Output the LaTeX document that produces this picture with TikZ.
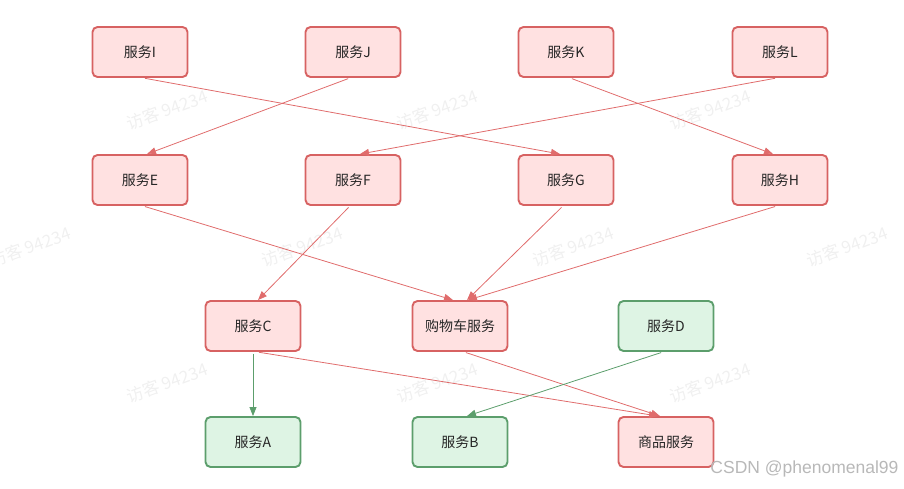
\documentclass[tikz,border=0pt]{standalone}
\usepackage{fontspec}
\setmainfont{Noto Sans CJK SC}
\newfontfamily\csdnfont{Liberation Sans}
\usetikzlibrary{arrows.meta,positioning}

\definecolor{redFill}{RGB}{255,225,225}
\definecolor{redLine}{RGB}{215,98,98}
\definecolor{redEdge}{RGB}{224,108,108}
\definecolor{greenFill}{RGB}{222,244,228}
\definecolor{greenLine}{RGB}{92,158,108}
\definecolor{markGray}{RGB}{240,240,240}

\begin{document}
\begin{tikzpicture}[x=1pt, y=-1pt,
			every node/.style={align=center, font=\fontsize{14}{16}\selectfont, text=black!85},
			redBox/.style={draw=redLine, fill=redFill, rounded corners=5pt, line width=1.9pt, minimum width=95pt, minimum height=50pt, inner sep=0pt},
			greenBox/.style={draw=greenLine, fill=greenFill, rounded corners=5pt, line width=1.9pt, minimum width=95pt, minimum height=50pt, inner sep=0pt},
			redArrow/.style={draw=redEdge, line width=0.8pt, -{Triangle[length=9pt, width=7pt]}, shorten <=2pt},  % red dependency
			greenArrow/.style={draw=greenLine, line width=0.8pt, -{Triangle[length=9pt, width=7pt]}, shorten <=2pt},
			wmText/.style={text=markGray, rotate=20, font=\fontsize{17}{20}\selectfont}
		]
		\useasboundingbox (0,0) rectangle (904,489);

		% watermark
		\foreach \x in {167,437,710} {
			\node[wmText] (wmTop\x) at (\x,110) {访客 94234};
			\node[wmText] (wmLow\x) at (\x,383) {访客 94234};
		}
		\foreach \x in {30,302,573,847}
			\node[wmText] (wmMid\x) at (\x,247) {访客 94234};

		% top row
		\node[redBox] (I) at (140,52) {服务I};
		\node[redBox] (J) at (353,52) {服务J};
		\node[redBox] (K) at (566,52) {服务K};
		\node[redBox] (L) at (780,52) {服务L};
		% second row
		\node[redBox] (E) at (140,180) {服务E};
		\node[redBox] (F) at (353,180) {服务F};
		\node[redBox] (G) at (566,180) {服务G};
		\node[redBox] (H) at (780,180) {服务H};
		% third row
		\node[redBox] (C) at (253,326) {服务C};
		\node[redBox] (cart) at (460,326) {购物车服务};
		\node[greenBox] (D) at (666,326) {服务D};
		% bottom row
		\node[greenBox] (A) at (253,442) {服务A};
		\node[greenBox] (B) at (460,442) {服务B};
		\node[redBox] (goods) at (666,442) {商品服务};

		\draw[redArrow] ([xshift=3pt]I.south) -- ([xshift=-6pt]G.north);
		\draw[redArrow] ([xshift=-3pt]J.south) -- ([xshift=7pt]E.north);
		\draw[redArrow] ([xshift=4pt]K.south) -- ([xshift=-7pt]H.north);
		\draw[redArrow] ([xshift=-3pt]L.south) -- ([xshift=7pt]F.north);

		\draw[redArrow] ([xshift=3pt]E.south) -- ([xshift=-7pt]cart.north);
		\draw[redArrow] ([xshift=-3pt]F.south) -- ([xshift=5pt]C.north);
		\draw[redArrow] ([xshift=-3pt]G.south) -- ([xshift=7pt]cart.north);
		\draw[redArrow] ([xshift=-3pt]H.south) -- ([xshift=8pt]cart.north);

		\draw[greenArrow] (C.south) -- (A.north);
		\draw[redArrow] ([xshift=4pt]C.south) -- ([xshift=-8pt]goods.north);
		\draw[redArrow] ([xshift=4pt]cart.south) -- ([xshift=-6pt]goods.north);
		\draw[greenArrow] ([xshift=-3pt]D.south) -- ([xshift=7pt]B.north);

		\node[anchor=east, text=black!28, font=\csdnfont\fontsize{17.5}{20}\selectfont] (csdn) at (902,469) {CSDN @phenomenal99};
	\end{tikzpicture}
\end{document}
